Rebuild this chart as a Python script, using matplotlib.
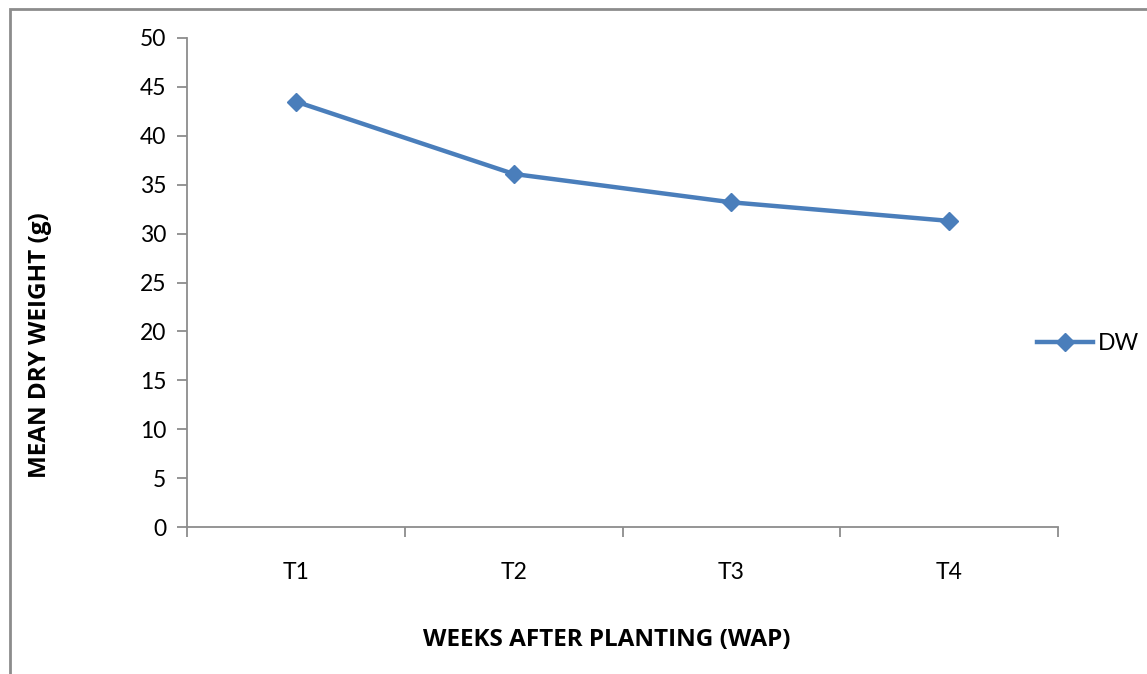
import matplotlib
matplotlib.use("Agg")
import matplotlib.pyplot as plt
from matplotlib.patches import Rectangle

treatments = ["T1", "T2", "T3", "T4"]
dry_weight = [43.5, 36.1, 33.2, 31.3]
y_ticks = [0, 5, 10, 15, 20, 25, 30, 35, 40, 45, 50]

plt.rcParams["font.family"] = ["Lato", "DejaVu Sans"]

fig = plt.figure(figsize=(11.47, 6.74), dpi=100)
fig.patches.append(Rectangle((10 / 1147, -0.1), 1.2, 1 - 9 / 674 + 0.1,
                             transform=fig.transFigure, fill=False,
                             edgecolor="#8c8c8c", linewidth=2))

ax = fig.add_axes([187 / 1147, 1 - 527 / 674, (1058 - 187) / 1147, (527 - 38) / 674])
x = list(range(1, len(treatments) + 1))
ax.plot(x, dry_weight, color="#4A7EBB", linewidth=3.2, marker="D",
        markersize=9, label="DW")

ax.set_xlim(0.5, len(treatments) + 0.5)
ax.set_ylim(0, 50)
ax.set_yticks(y_ticks)
ax.set_xticks([i + 0.5 for i in range(len(treatments) + 1)])
ax.set_xticklabels([])
ax.set_xticks(x, minor=True)
ax.set_xticklabels(treatments, minor=True)
ax.tick_params(axis="x", which="minor", length=0, pad=25, labelsize=16.5)
ax.tick_params(axis="x", which="major", length=7, width=1.3, color="#8c8c8c", direction="out")
ax.tick_params(axis="y", length=7, width=1.3, color="#8c8c8c", direction="out",
               labelsize=16.5, pad=8)

for side in ["top", "right"]:
    ax.spines[side].set_visible(False)
for side in ["left", "bottom"]:
    ax.spines[side].set_color("#8c8c8c")
    ax.spines[side].set_linewidth(1.3)

label_font = dict(family=["Open Sans", "DejaVu Sans"], fontsize=17.5, fontweight="bold")
fig.text(40 / 1147, 1 - 345 / 674, "MEAN DRY WEIGHT (g)", rotation=90,
         ha="center", va="center", **label_font)
fig.text(607 / 1147, 1 - 640 / 674, "WEEKS AFTER PLANTING (WAP)",
         ha="center", va="center", **label_font)

ax.legend(loc="center left", bbox_to_anchor=(1028 / 1147, 1 - 344 / 674),
          bbox_transform=fig.transFigure, frameon=False, fontsize=16.5,
          handlelength=2.45, handletextpad=0.2, borderaxespad=0)

fig.savefig("out.png", dpi=100)
